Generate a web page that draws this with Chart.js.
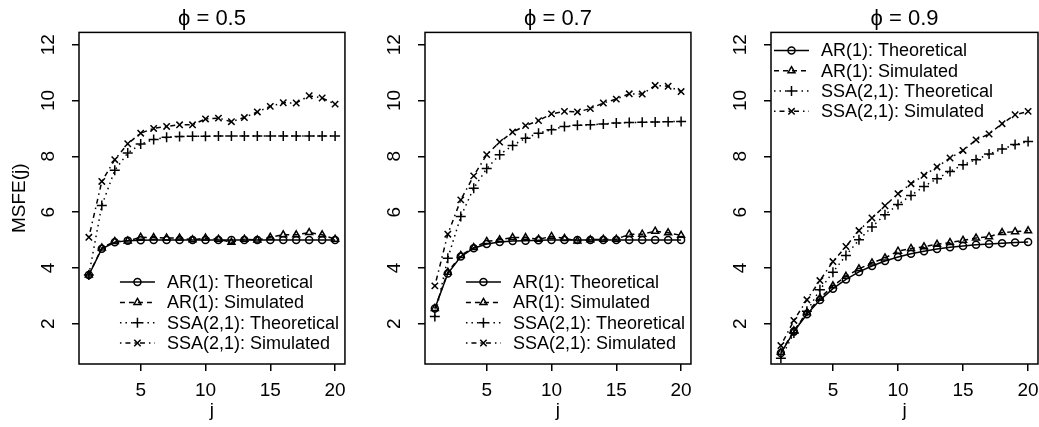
<!DOCTYPE html>
<html>
<head>
<meta charset="utf-8">
<script src="https://cdn.jsdelivr.net/npm/chart.js@4/dist/chart.umd.min.js"></script>
<style>
  html,body{margin:0;padding:0;background:#fff;overflow:hidden;}
  .row{display:flex;width:1039px;height:427px;}
  .row canvas{display:block;flex:none;}
</style>
</head>
<body>
<div class="row">
  <canvas id="p1" width="346" height="427"></canvas>
  <canvas id="p2" width="346" height="427"></canvas>
  <canvas id="p3" width="347" height="427"></canvas>
</div>
<script>
// horizons and axes
const jVals = [1,2,3,4,5,6,7,8,9,10,11,12,13,14,15,16,17,18,19,20];
const xTickVals = [5,10,15,20];
const yTickVals = [2,4,6,8,10,12];
const xRange = [0.24, 20.76];
const yRange = [0.56, 12.44];

// phi = 0.5
const arTheo05  = [3.75,4.69,4.92,4.98,4.99,5.00,5.00,5.00,5.00,5.00,5.00,5.00,5.00,5.00,5.00,5.00,5.00,5.00,5.00,5.00];
const arSim05   = [3.75,4.72,4.95,4.97,5.10,5.09,5.07,5.07,5.01,5.07,5.03,4.92,5.03,5.00,5.10,5.19,5.19,5.27,5.19,5.03];
const ssaTheo05 = [3.75,6.24,7.50,8.12,8.44,8.60,8.68,8.71,8.72,8.72,8.73,8.73,8.73,8.73,8.73,8.73,8.73,8.73,8.73,8.73];
const ssaSim05  = [5.10,7.10,7.88,8.45,8.83,9.00,9.07,9.13,9.13,9.34,9.37,9.24,9.39,9.59,9.79,9.92,9.91,10.17,10.09,9.87];

// phi = 0.7
const arTheo07  = [2.55,3.80,4.41,4.71,4.86,4.93,4.97,4.98,4.99,5.00,5.00,5.00,5.00,5.00,5.00,5.00,5.00,5.00,5.00,5.00];
const arSim07   = [2.55,3.85,4.45,4.73,4.95,5.01,5.09,5.09,5.03,5.13,5.06,4.97,5.01,5.03,5.03,5.21,5.21,5.32,5.26,5.17];
const ssaTheo07 = [2.26,4.35,5.84,6.86,7.56,8.06,8.39,8.65,8.83,8.95,9.07,9.11,9.13,9.16,9.19,9.21,9.22,9.23,9.24,9.25];
const ssaSim07  = [3.36,5.21,6.44,7.30,8.06,8.51,8.87,9.10,9.28,9.52,9.61,9.59,9.71,9.91,10.05,10.24,10.23,10.54,10.51,10.32];

// phi = 0.9
const arTheo09  = [0.95,1.72,2.34,2.85,3.26,3.59,3.86,4.07,4.25,4.39,4.51,4.60,4.68,4.74,4.79,4.83,4.86,4.89,4.91,4.93];
const arSim09   = [0.98,1.75,2.40,2.92,3.36,3.70,3.97,4.18,4.36,4.60,4.70,4.76,4.85,4.91,4.99,5.07,5.12,5.27,5.30,5.33];
const ssaTheo09 = [0.77,1.67,2.45,3.22,3.85,4.45,5.01,5.47,5.91,6.27,6.60,6.92,7.20,7.46,7.70,7.88,8.08,8.26,8.42,8.53];
const ssaSim09  = [1.22,2.12,2.86,3.55,4.23,4.77,5.34,5.79,6.23,6.66,7.02,7.32,7.62,7.94,8.21,8.59,8.80,9.17,9.49,9.61];

const FONT = '"Liberation Sans", Arial, Helvetica, sans-serif';

const seriesStyle = [
  {label:'AR(1): Theoretical',    dash:[],           point:'circle',   r:3.5},
  {label:'AR(1): Simulated',      dash:[5,4],        point:'triangle', r:4},
  {label:'SSA(2,1): Theoretical', dash:[1.5,4],      point:'cross',    r:5},
  {label:'SSA(2,1): Simulated',   dash:[1.5,4,5,4],  point:'crossRot', r:4.5},
];

const panels = [
  {id:'p1', title:'ϕ = 0.5', series:[arTheo05, arSim05, ssaTheo05, ssaSim05], legend:'bottomright', yTitle:true},
  {id:'p2', title:'ϕ = 0.7', series:[arTheo07, arSim07, ssaTheo07, ssaSim07], legend:'bottomright', yTitle:false},
  {id:'p3', title:'ϕ = 0.9', series:[arTheo09, arSim09, ssaTheo09, ssaSim09], legend:'topleft',     yTitle:false},
];

// box, rotated y labels and R-style legend
const rStyle = {
  id:'rstyle',
  afterDraw(chart){
    const {ctx, chartArea:a} = chart;
    const pos = chart.options.plugins.rstyle.legend;
    ctx.save();
    ctx.strokeStyle = '#000';
    ctx.fillStyle = '#000';
    ctx.lineWidth = 1.5;
    ctx.setLineDash([]);
    ctx.strokeRect(a.left, a.top, a.right - a.left, a.bottom - a.top);

    const ys = chart.scales.y;
    ctx.font = '19px ' + FONT;
    ctx.textAlign = 'center';
    ctx.textBaseline = 'middle';
    ys.ticks.forEach(t => {
      ctx.save();
      ctx.translate(a.left - 30, ys.getPixelForValue(t.value));
      ctx.rotate(-Math.PI / 2);
      ctx.fillText(String(t.value), 0, 0);
      ctx.restore();
    });

    const rowH = 20.3;
    let textX, y0;
    if (pos === 'bottomright') {
      textX = a.right - 178;
      y0 = a.bottom - 21 - (seriesStyle.length - 1) * rowH;
    } else {
      textX = a.left + 50;
      y0 = a.top + 18;
    }
    ctx.font = '18px ' + FONT;
    ctx.textAlign = 'left';
    seriesStyle.forEach((s, i) => {
      const y = y0 + i * rowH;
      ctx.setLineDash(s.dash);
      ctx.beginPath();
      ctx.moveTo(textX - 47, y);
      ctx.lineTo(textX - 12, y);
      ctx.stroke();
      ctx.setLineDash([]);
      ctx.fillStyle = 'rgba(0,0,0,0)';
      Chart.helpers.drawPoint(ctx, {pointStyle:s.point, radius:s.r, borderWidth:1.5, rotation:0}, textX - 29.5, y);
      ctx.fillStyle = '#000';
      ctx.fillText(s.label, textX, y + 1);
    });
    ctx.restore();
  }
};

function panelConfig(p){
  const tickGrid = {drawOnChartArea:false, drawTicks:true, tickLength:7, color:'#000', lineWidth:1.5};
  return {
    type:'line',
    data:{ datasets: seriesStyle.map((s, k) => ({
      label:s.label,
      data: jVals.map((j, i) => ({x:j, y:p.series[k][i]})),
      borderColor:'#000', borderWidth:1.5, borderDash:s.dash,
      pointStyle:s.point, pointRadius:s.r, pointBorderColor:'#000',
      pointBackgroundColor:'rgba(0,0,0,0)', pointBorderWidth:1.5,
      tension:0, fill:false,
    }))},
    options:{
      responsive:false, animation:false, events:[],
      layout:{padding:{left:0, right:1, top:0, bottom:0}},
      plugins:{
        legend:{display:false}, tooltip:{enabled:false},
        title:{display:true, text:p.title, fullSize:false, color:'#000',
               font:{size:22, family:FONT, weight:'normal'}, padding:{top:6, bottom:0}},
        rstyle:{legend:p.legend},
      },
      scales:{
        x:{ type:'linear', min:xRange[0], max:xRange[1],
            afterBuildTicks: s => { s.ticks = xTickVals.map(v => ({value:v})); },
            afterFit: s => { s.height = 63; },
            grid:tickGrid, border:{display:false},
            ticks:{color:'#000', font:{size:19, family:FONT}, padding:8, maxRotation:0, autoSkip:false},
            title:{display:true, text:'j', color:'#000', font:{size:19, family:FONT}, padding:{top:0, bottom:5}} },
        y:{ type:'linear', min:yRange[0], max:yRange[1],
            afterBuildTicks: s => { s.ticks = yTickVals.map(v => ({value:v})); },
            afterFit: s => { s.width = 79; },
            grid:tickGrid, border:{display:false},
            ticks:{display:false},
            title:{display:p.yTitle, text:'MSFE(j)', color:'#000', font:{size:19, family:FONT}, padding:{top:8, bottom:0}} },
      }
    },
    plugins:[rStyle]
  };
}

function mountPanel(p){
  const canvas = document.getElementById(p.id);
  const baseW = canvas.width;
  let chart = new Chart(canvas, panelConfig(p));
  // Chart.js keeps room for the last x label; widen the canvas by that amount
  // and let it overlap the next panel's empty margin, so the box reaches the edge like R's
  const short = (baseW - 1) - chart.chartArea.right;
  if (short > 0.5) {
    chart.destroy();
    canvas.width = Math.round(baseW + short);
    canvas.height = 427;
    canvas.style.width = canvas.width + 'px';
    canvas.style.height = '427px';
    canvas.style.marginRight = (baseW - canvas.width) + 'px';
    chart = new Chart(canvas, panelConfig(p));
  }
}

panels.forEach(mountPanel);
</script>
</body>
</html>
